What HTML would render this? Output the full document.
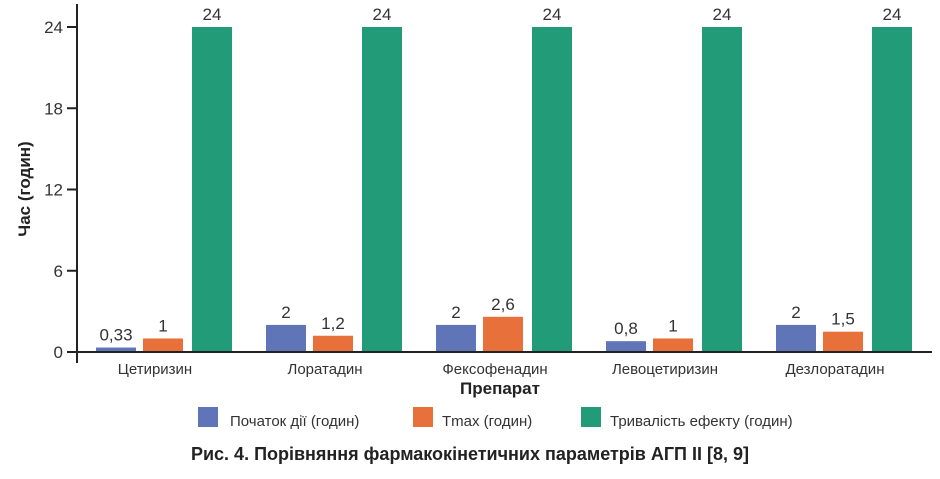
<!DOCTYPE html>
<html><head><meta charset="utf-8"><style>
body{margin:0;background:#fff;width:940px;height:474px;overflow:hidden;font-family:"Liberation Sans",sans-serif}
svg text{font-family:"Liberation Sans",sans-serif}
</style></head><body>
<svg id="chart" width="940" height="474">
<g id="plot"></g>
<text x="30" y="189" transform="rotate(-90 30 189)" text-anchor="middle" font-size="17" font-weight="bold" fill="#222">Час (годин)</text>
<text x="500" y="394" text-anchor="middle" font-size="17" font-weight="bold" fill="#222">Препарат</text>
<g>
<rect x="198" y="407" width="20" height="20" fill="#6074b8"/>
<text x="230" y="426" font-size="15" fill="#333">Початок дії (годин)</text>
<rect x="413" y="407" width="20" height="20" fill="#e8703a"/>
<text x="442" y="426" font-size="15" fill="#333">Tmax (годин)</text>
<rect x="581" y="407" width="20" height="20" fill="#229b78"/>
<text x="610" y="426" font-size="15" fill="#333">Тривалість ефекту (годин)</text>
</g>
<text x="470" y="460" text-anchor="middle" font-size="18" font-weight="bold" fill="#222">Рис. 4. Порівняння фармакокінетичних параметрів АГП II [8, 9]</text>
</svg>
<script>
const categories=["Цетиризин","Лоратадин","Фексофенадин","Левоцетиризин","Дезлоратадин"];
const onset=[0.33,2,2,0.8,2];
const tmax=[1,1.2,2.6,1,1.5];
const duration=[24,24,24,24,24];
const yTicks=[0,6,12,18,24];
const seriesColors=["#6074b8","#e8703a","#229b78"];
const NS="http://www.w3.org/2000/svg";
const g=document.getElementById('plot');
const x0=78,bandW=170,y0=352,yTop=27,yMax=24;
const y=v=>y0-(v/yMax)*(y0-yTop);
const fmt=v=>String(v).replace('.',',');
function mk(t,a){const e=document.createElementNS(NS,t);for(const k in a)e.setAttribute(k,a[k]);g.appendChild(e);return e;}
yTicks.forEach(t=>{
 const l=mk('line',{x1:67,x2:78,y1:y(t),y2:y(t),stroke:'#222','stroke-width':2});
 
 
 const tx=mk('text',{x:63,y:y(t)+6,'text-anchor':'end','font-size':17,fill:'#333'});
 tx.textContent=t;
 
 
});
const series=[onset,tmax,duration];
const offs=[18,65,114];
categories.forEach((c,i)=>{
 const bx=x0+i*bandW;
 series.forEach((s,j)=>{
  const v=s[i];
  const r=mk('rect',{x:bx+offs[j],y:y(v),width:40,height:y0-y(v),fill:seriesColors[j]});
  
  
  const t=mk('text',{x:bx+offs[j]+20,y:y(v)-7,'text-anchor':'middle','font-size':17,fill:'#333'});
  t.textContent=fmt(v);
  
  
 });
 const cl=mk('text',{x:bx+bandW/2-8,y:374,'text-anchor':'middle','font-size':15,fill:'#333'});
 cl.textContent=c;
 
 
});
const ax=mk('line',{x1:77,x2:77,y1:4,y2:363,stroke:'#222','stroke-width':2});


const bl=mk('line',{x1:67,x2:932,y1:352,y2:352,stroke:'#222','stroke-width':2});


</script>
</body></html>
